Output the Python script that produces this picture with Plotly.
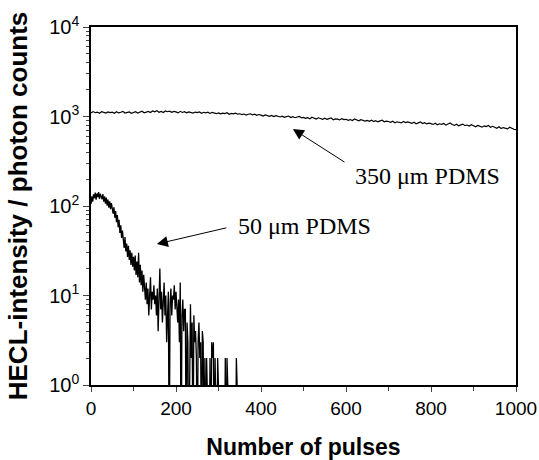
import numpy as np
import plotly.graph_objects as go

# 350 um PDMS: photon counts, every 5 pulses from 0 to 1000
pulses_350 = list(range(0, 1001, 5))
counts_350 = [
    1098, 1135, 1102, 1120, 1089, 1131, 1110, 1094, 1126, 1105,
    1119, 1088, 1132, 1097, 1115, 1141, 1093, 1108, 1124, 1086,
    1112, 1130, 1095, 1118, 1146, 1102, 1125, 1139, 1108, 1151,
    1128, 1160, 1117, 1142, 1109, 1155, 1131, 1147, 1112, 1138,
    1125, 1098, 1142, 1110, 1133, 1101, 1127, 1115, 1090, 1121,
    1104, 1128, 1087, 1115, 1096, 1119, 1082, 1108, 1093, 1075,
    1098, 1069, 1091, 1077, 1102, 1058, 1084, 1070, 1092, 1061,
    1073, 1049, 1066, 1038, 1059, 1071, 1042, 1063, 1030, 1052,
    1035, 1011, 1042, 1018, 1004, 1029, 997, 1021, 1006, 988,
    1009, 981, 998, 1012, 975, 994, 969, 990, 1003, 966,
    978, 952, 970, 945, 983, 958, 938, 967, 949, 931,
    955, 929, 946, 962, 921, 940, 934, 915, 948, 925,
    930, 908, 924, 901, 937, 912, 896, 920, 905, 889,
    903, 884, 911, 879, 897, 870, 893, 908, 872, 886,
    879, 862, 885, 851, 873, 866, 848, 880, 857, 869,
    855, 838, 862, 830, 849, 871, 835, 852, 826, 844,
    832, 815, 840, 808, 829, 817, 836, 801, 823, 846,
    812, 795, 818, 788, 806, 822, 790, 803, 781, 809,
    789, 768, 794, 775, 760, 786, 771, 792, 758, 777,
    761, 740, 766, 733, 752, 745, 727, 758, 736, 720,
    712,
]

# 50 um PDMS: photon counts, every 2 pulses from 0 to 350 (0 = no counts)
pulses_50 = list(range(0, 351, 2))
counts_50 = [
    105, 128, 112, 135, 122, 141, 118, 138, 126, 143, 120, 137, 128,
    119, 136, 112, 128, 106, 124, 101, 118, 96, 113, 92, 108, 90,
    82, 97, 74, 88, 66, 79, 58, 70, 50, 61, 44, 53, 39,
    34, 45, 31, 38, 27, 36, 25, 32, 22, 30, 21, 27,
    19, 28, 17, 24, 16, 30, 14, 22, 13, 19, 11, 17,
    11, 9, 14, 8, 12, 6, 10, 16, 7, 11, 9, 13, 8,
    10, 6, 12, 4, 9, 20, 7, 11, 5, 8, 14, 6, 10, 3, 9, 11, 0, 8, 12, 6, 10, 9, 13, 7, 11,
    8, 5, 9, 3, 14, 0, 6, 9, 4, 7, 7, 0, 5, 3, 0, 4, 8, 2, 5, 0, 6, 3, 4, 2, 0, 3, 5, 2, 3, 0,
    4, 3, 0, 2, 0, 2, 0, 0, 0, 2, 0, 3, 2, 3, 0, 2, 0, 0, 2, 0,
    0, 0, 0, 0, 0, 0, 0, 2, 0, 2, 0, 0, 0, 0, 0, 0, 0, 0, 0, 0, 2, 0, 0, 0, 0,
]

y_tickvals = [1, 10, 100, 1000, 10000]
y_ticktext = ['10<sup>0</sup>', '10<sup>1</sup>', '10<sup>2</sup>', '10<sup>3</sup>', '10<sup>4</sup>']
x_tickvals = [0, 200, 400, 600, 800, 1000]

fig = go.Figure()

fig.add_trace(go.Scatter(x=pulses_350, y=counts_350, mode='lines',
                         line=dict(color='black', width=1.2), showlegend=False))

# zero counts drop below the bottom of the log axis
y50 = np.array(counts_50, dtype=float)
y50 = np.where(y50 > 0, y50, 0.1)
fig.add_trace(go.Scatter(x=pulses_50, y=y50, mode='lines',
                         line=dict(color='black', width=1.3), showlegend=False))

serif = 'Liberation Serif, Times New Roman, serif'
sans = 'Liberation Sans, Arial, sans-serif'

# arrows (tail -> head), positions in data units
arrows = [
    dict(tail=(600, 2.48), head=(475, 2.86)),
    dict(tail=(322, 1.76), head=(155, 1.575)),
]
for a in arrows:
    fig.add_annotation(x=a['head'][0], y=a['head'][1], ax=a['tail'][0], ay=a['tail'][1],
                       xref='x', yref='y', axref='x', ayref='y', text='',
                       showarrow=True, arrowhead=2, arrowsize=2.2, arrowwidth=1,
                       arrowcolor='black')

fig.add_annotation(x=616, y=2.335, text='350 μm PDMS', showarrow=False,
                   xanchor='left', yanchor='middle', font=dict(family=serif, size=24, color='black'))
fig.add_annotation(x=342, y=1.777, text='50 μm PDMS', showarrow=False,
                   xanchor='left', yanchor='middle', font=dict(family=serif, size=24, color='black'))

fig.update_layout(
    width=539, height=460,
    margin=dict(l=91, r=23, t=27, b=75),
    plot_bgcolor='white', paper_bgcolor='white',
    font=dict(family=sans, color='black'),
    xaxis=dict(range=[0, 1000], tickvals=x_tickvals, ticks='outside', ticklen=5, tickwidth=1.2,
               showline=True, linecolor='black', linewidth=1.5, mirror=True, showgrid=False,
               zeroline=False, tickfont=dict(size=19), automargin=False,
               minor=dict(ticks='outside', ticklen=4, dtick=100, tickwidth=1.2, showgrid=False),
               title=dict(text='<b>Number of pulses</b>', font=dict(size=23), standoff=24)),
    yaxis=dict(type='log', range=[0, 4], tickvals=y_tickvals, ticktext=y_ticktext,
               ticks='outside', ticklen=6, tickwidth=1.2,
               showline=True, linecolor='black', linewidth=1.5, mirror=True, showgrid=False,
               zeroline=False, tickfont=dict(size=20), automargin=False,
               minor=dict(ticks='outside', ticklen=3, dtick='D1', tickwidth=1, showgrid=False),
               title=dict(text='<b>HECL-intensity / photon counts</b>', font=dict(size=26), standoff=14)),
)

# drop the page's default body margin so the figure sits at the window's corner
fig.write_html("out.html", config={'displayModeBar': False},
               post_script="document.body.style.margin='0';")
